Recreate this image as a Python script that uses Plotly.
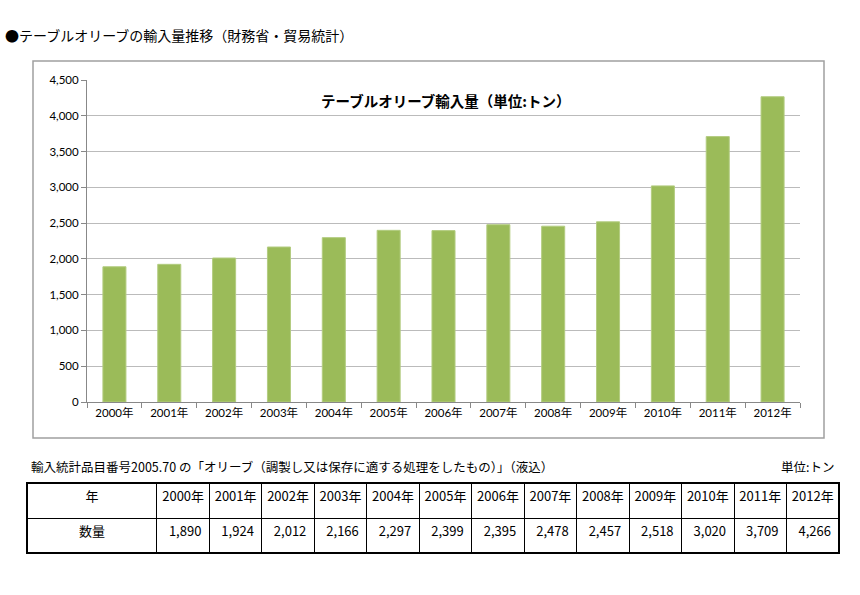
import plotly.graph_objects as go

years = ["2000年", "2001年", "2002年", "2003年", "2004年", "2005年", "2006年",
         "2007年", "2008年", "2009年", "2010年", "2011年", "2012年"]
volumes = [1890, 1924, 2012, 2166, 2297, 2399, 2395, 2478, 2457, 2518, 3020, 3709, 4266]

page_title = "●テーブルオリーブの輸入量推移（財務省・貿易統計）"
chart_title = "テーブルオリーブ輸入量（単位:トン）"
note_text = "輸入統計品目番号2005.70 の「オリーブ（調製し又は保存に適する処理をしたもの）」（液込）"
unit_text = "単位:トン"
row_header = "年"
row_label = "数量"

W, H = 860, 595


def px(x):
    return x / W


def py(y):
    return 1 - y / H


CJK = "Noto Sans CJK JP"
AX_FONT = "Lato, Noto Sans CJK JP"

fig = go.Figure()

fig.add_trace(go.Bar(
    x=years, y=volumes,
    marker=dict(color="#9BBB59", line=dict(color="#B3CC80", width=1)),
    width=0.42,
    xaxis="x", yaxis="y",
    showlegend=False,
    hoverinfo="x+y",
))

fig.add_trace(go.Table(
    domain=dict(x=[px(27), px(839)], y=[py(558), py(483)]),
    columnwidth=[130] + [52.5] * len(years),
    header=dict(
        values=[row_header] + years,
        height=35,
        align="center",
        fill=dict(color="white"),
        line=dict(color="black", width=1),
        font=dict(family=CJK, size=13, color="black"),
    ),
    cells=dict(
        values=[[row_label]] + [[f"{v:,}"] for v in volumes],
        height=35,
        align=["center"] + ["right"] * len(years),
        fill=dict(color="white"),
        line=dict(color="black", width=1),
        font=dict(family=CJK, size=13, color="black"),
    ),
))

fig.update_layout(
    width=W, height=H,
    margin=dict(l=0, r=0, t=0, b=0, autoexpand=False),
    paper_bgcolor="white",
    plot_bgcolor="white",
    xaxis=dict(
        domain=[px(87), px(800)],
        anchor="y",
        showline=True, linecolor="#888888", linewidth=1,
        ticks="outside", tickson="boundaries", ticklen=5, tickcolor="#888888",
        tickfont=dict(family=AX_FONT, size=11.5, color="black"),
        showgrid=False,
        fixedrange=True,
    ),
    yaxis=dict(
        domain=[py(402), py(80)],
        anchor="x",
        range=[0, 4500],
        dtick=500,
        tickformat=",",
        showline=True, linecolor="#888888", linewidth=1,
        ticks="outside", ticklen=5, tickcolor="#888888",
        showgrid=True, gridcolor="#BBBBBB", gridwidth=1.3,
        zeroline=False,
        tickfont=dict(family=AX_FONT, size=11.5, color="black"),
        fixedrange=True,
    ),
    shapes=[
        dict(type="rect", xref="paper", yref="paper",
             x0=px(33), x1=px(824), y0=py(438), y1=py(61),
             line=dict(color="#A0A0A0", width=1.5), layer="below"),
        dict(type="rect", xref="paper", yref="paper",
             x0=px(27), x1=px(839), y0=py(553), y1=py(483),
             line=dict(color="black", width=2), layer="above"),
    ],
    annotations=[
        dict(text=page_title, xref="paper", yref="paper",
             x=px(3), y=py(35), xanchor="left", yanchor="middle",
             showarrow=False, font=dict(family=CJK, size=14, color="black")),
        dict(text=f"<b>{chart_title}</b>", xref="paper", yref="paper",
             x=px(445), y=py(100), xanchor="center", yanchor="middle",
             showarrow=False, font=dict(family=CJK, size=14.5, color="black")),
        dict(text=note_text, xref="paper", yref="paper",
             x=px(29), y=py(466), xanchor="left", yanchor="middle",
             showarrow=False, font=dict(family=CJK, size=12.5, color="black")),
        dict(text=unit_text, xref="paper", yref="paper",
             x=px(836), y=py(466), xanchor="right", yanchor="middle",
             showarrow=False, font=dict(family=CJK, size=12.5, color="black")),
    ],
)

fig.write_html("out.html", config={"displayModeBar": False},
               post_script="document.body.style.margin='0';")
